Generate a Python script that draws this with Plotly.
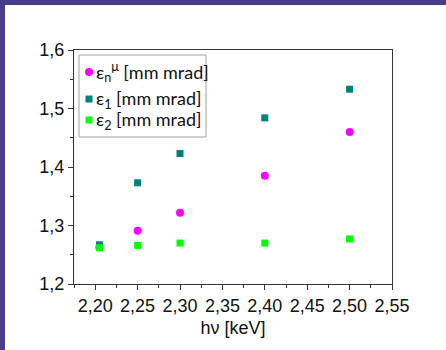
import plotly.graph_objects as go

energy = [2.205, 2.25, 2.30, 2.40, 2.50]
eps_n_mu = [1.263, 1.291, 1.322, 1.385, 1.460]
eps_1 = [1.267, 1.373, 1.423, 1.484, 1.533]
eps_2 = [1.262, 1.266, 1.270, 1.270, 1.277]

names = ["ε<sub>n</sub><sup>μ</sup> [mm mrad]", "ε<sub>1</sub> [mm mrad]", "ε<sub>2</sub> [mm mrad]"]
colors = ["#FF00FF", "#008080", "#00FF00"]
symbols = ["circle", "square", "square"]
sizes = [8, 7, 7]
series = [eps_n_mu, eps_1, eps_2]

fig = go.Figure()
for nm, ys, c, s, sz in zip(names, series, colors, symbols, sizes):
    fig.add_trace(go.Scatter(x=energy, y=ys, mode="markers", name=nm, showlegend=False,
                             marker=dict(symbol=s, size=sz, color=c, line=dict(width=0))))

axis_common = dict(showline=True, linecolor="#333333", linewidth=1.3, mirror=True,
                   showgrid=False, zeroline=False, ticks="outside", ticklen=5,
                   tickcolor="#333333", tickwidth=1,
                   tickfont=dict(family="Liberation Sans, Arial", size=18, color="#111111"))

fig.update_xaxes(range=[2.175, 2.55], dtick=0.05, tick0=2.2, tickformat=".2f",
                 minor=dict(ticks="outside", ticklen=3, dtick=0.025, tick0=2.2, tickcolor="#333333"),
                 title=dict(text="hν [keV]", font=dict(family="Liberation Sans, Arial", size=18, color="#111111"),
                            standoff=6),
                 **axis_common)
fig.update_yaxes(range=[1.2, 1.6], dtick=0.1, tick0=1.2, tickformat=".1f",
                 minor=dict(ticks="outside", ticklen=3, dtick=0.05, tick0=1.2, tickcolor="#333333"),
                 **axis_common)

# Legend drawn as box + keys + labels (pixel placement inside plot area)
W, H = 318, 234  # plot area size in px
def px(xp):
    return xp / W
def py(yp_from_top):
    return 1 - yp_from_top / H

box_l, box_t, box_r, box_b = 5, 5, 132, 87
fig.add_shape(type="rect", xref="paper", yref="paper", x0=px(box_l), x1=px(box_r),
              y0=py(box_b), y1=py(box_t), line=dict(color="#A0A0A0", width=1), fillcolor="white",
              layer="above")
row_y = [22, 49, 70]
for nm, c, s, sz, ry in zip(names, colors, symbols, sizes, row_y):
    shp_type = "circle" if s == "circle" else "rect"
    half = sz / 2
    fig.add_shape(type=shp_type, xref="paper", yref="paper", xsizemode="pixel", ysizemode="pixel",
                  xanchor=px(15), yanchor=py(ry), x0=-half, x1=half, y0=-half, y1=half,
                  fillcolor=c, line=dict(width=0), layer="above")
    fig.add_annotation(xref="paper", yref="paper", x=px(20), y=py(ry), xanchor="left", yanchor="middle",
                       text=nm, showarrow=False, align="left",
                       font=dict(family="Lato, Liberation Sans", size=18, color="#111111"))

purple = "#483D8B"
fig.add_shape(type="rect", xref="paper", yref="paper", xsizemode="pixel", ysizemode="pixel",
              xanchor=0, yanchor=1, x0=-76, x1=380, y0=45, y1=52,
              fillcolor=purple, line=dict(width=0), layer="above")
fig.add_shape(type="rect", xref="paper", yref="paper", xsizemode="pixel", ysizemode="pixel",
              xanchor=0, yanchor=0, x0=-76, x1=-69, y0=-70, y1=290,
              fillcolor=purple, line=dict(width=0), layer="above")

fig.update_layout(
    width=446, height=350,
    margin=dict(l=74, r=54, t=50, b=66),
    paper_bgcolor="white", plot_bgcolor="white",
    separators=",.",
    showlegend=False,
)

fig.write_html("out.html", config={"displayModeBar": False},
               post_script="document.body.style.margin='0';")
